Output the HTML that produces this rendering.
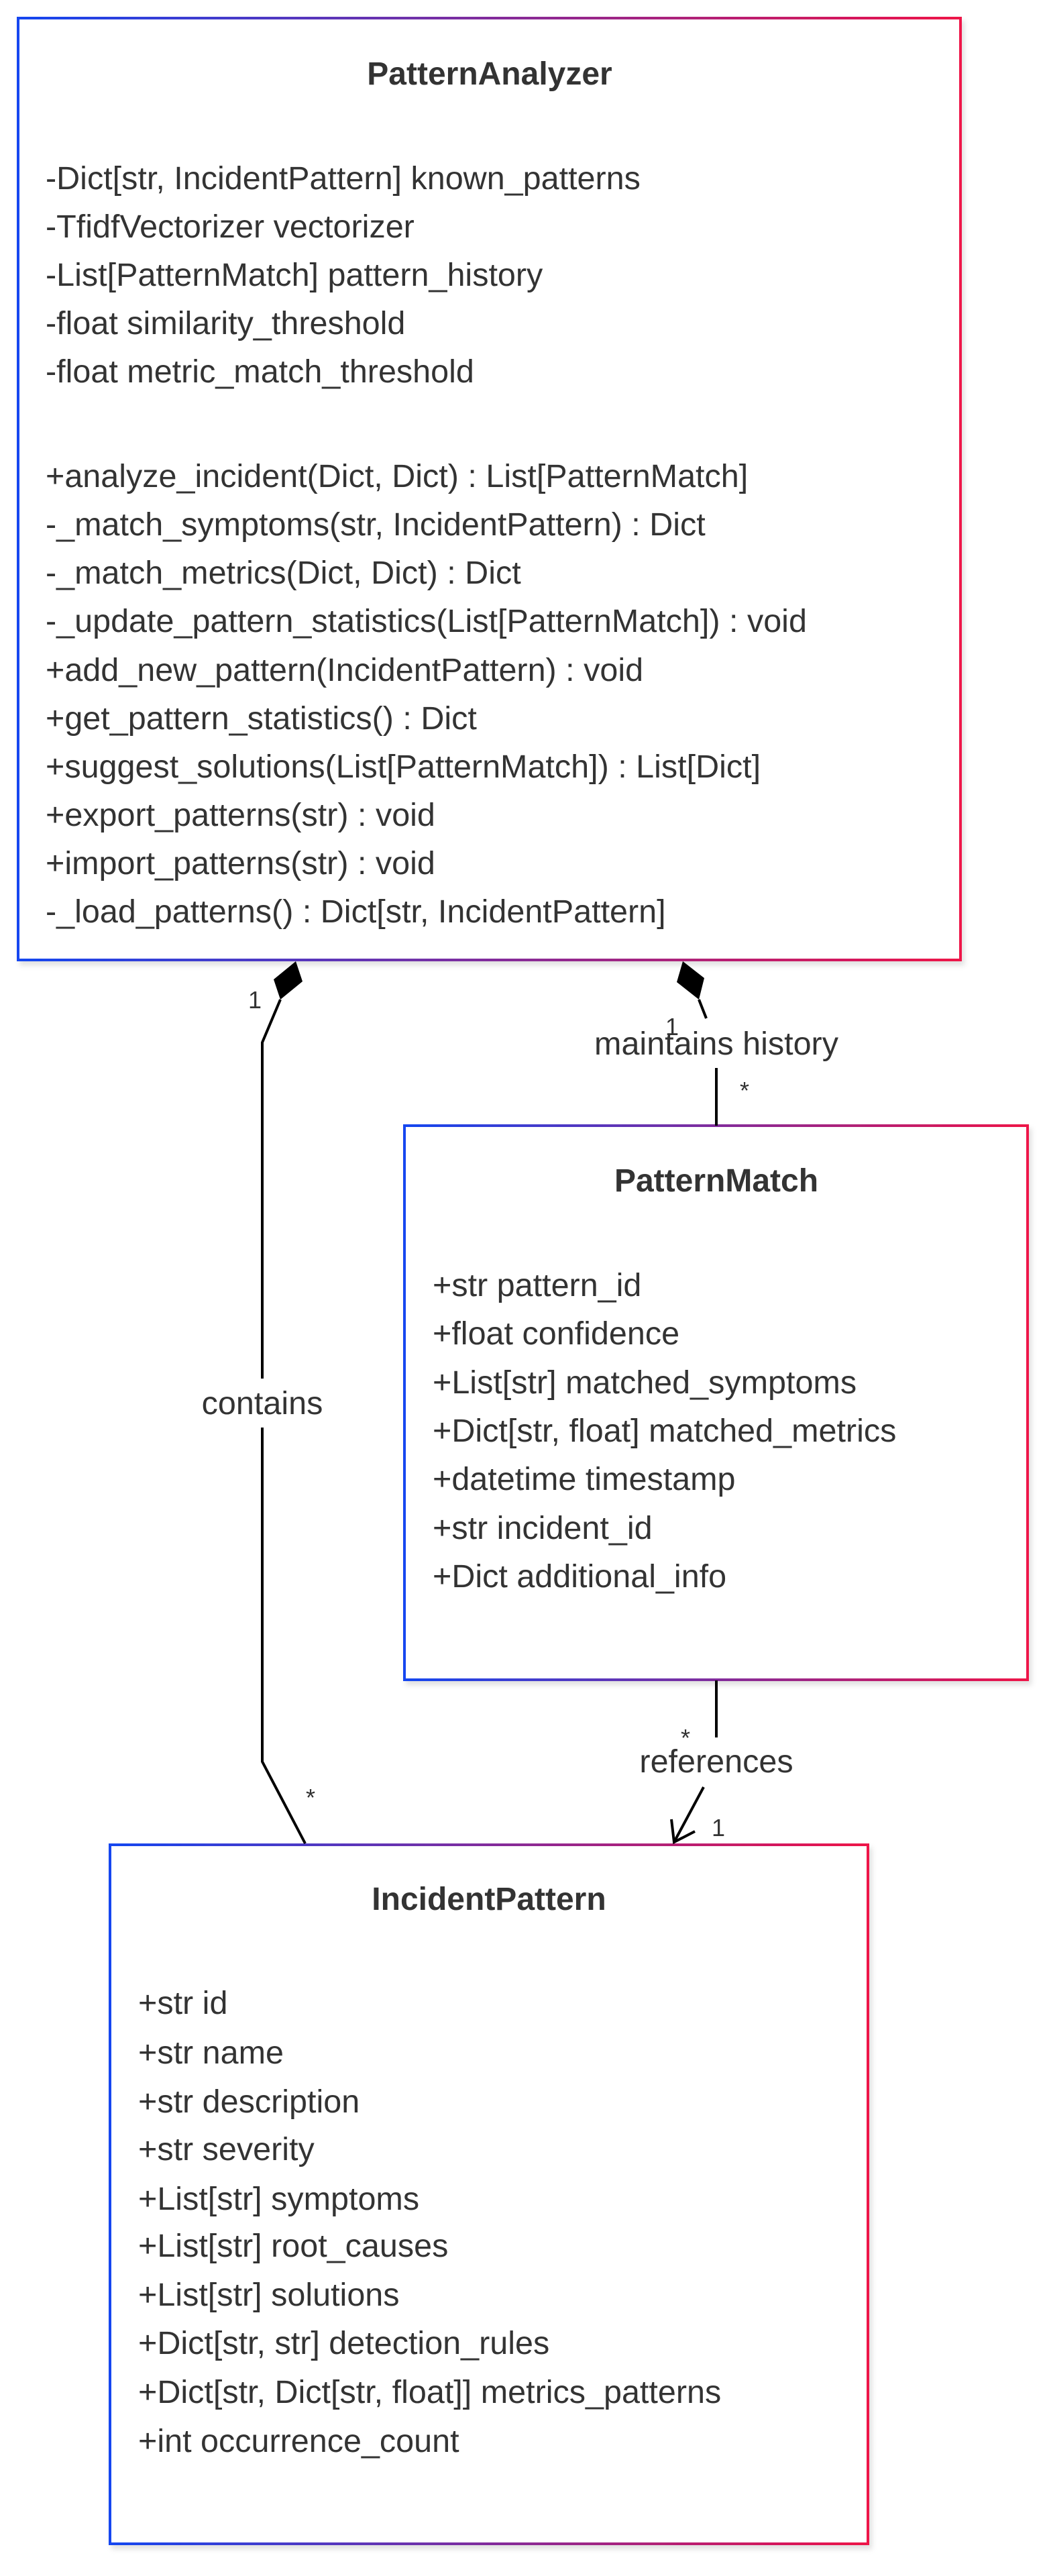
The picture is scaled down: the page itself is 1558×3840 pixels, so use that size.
<!DOCTYPE html>
<html><head><meta charset="utf-8"><style>
html,body{margin:0;padding:0;background:#fff;}
svg{display:block;}
text{font-family:"Liberation Sans",Arial,sans-serif;fill:#333;}
.t{font-size:48.5px;}
.b{font-size:48px;font-weight:bold;}
.s{font-size:36px;}
</style></head><body>
<svg width="1558" height="3840" viewBox="0 0 1558 3840" xmlns="http://www.w3.org/2000/svg">
<defs>
<linearGradient id="g" x1="0" y1="0" x2="1" y2="0">
<stop offset="0" stop-color="#1446f0"/><stop offset="1" stop-color="#ee1248"/>
</linearGradient>
<filter id="sh" x="-5%" y="-5%" width="110%" height="110%"><feDropShadow dx="4" dy="6" stdDeviation="4" flood-color="#000" flood-opacity="0.12"/></filter>
</defs>
<rect x="27" y="27" width="1405" height="1404" fill="#fff" stroke="url(#g)" stroke-width="4" filter="url(#sh)"/>
<rect x="603" y="1678" width="929" height="826" fill="#fff" stroke="url(#g)" stroke-width="4" filter="url(#sh)"/>
<rect x="164" y="2750" width="1130" height="1042" fill="#fff" stroke="url(#g)" stroke-width="4" filter="url(#sh)"/>

<text class="b" x="730" y="126" text-anchor="middle">PatternAnalyzer</text>
<g class="t">
<text x="68" y="282">-Dict[str, IncidentPattern] known_patterns</text>
<text x="68" y="354">-TfidfVectorizer vectorizer</text>
<text x="68" y="426">-List[PatternMatch] pattern_history</text>
<text x="68" y="498">-float similarity_threshold</text>
<text x="68" y="570">-float metric_match_threshold</text>
<text x="68" y="726">+analyze_incident(Dict, Dict) : List[PatternMatch]</text>
<text x="68" y="798">-_match_symptoms(str, IncidentPattern) : Dict</text>
<text x="68" y="870">-_match_metrics(Dict, Dict) : Dict</text>
<text x="68" y="942">-_update_pattern_statistics(List[PatternMatch]) : void</text>
<text x="68" y="1015">+add_new_pattern(IncidentPattern) : void</text>
<text x="68" y="1087">+get_pattern_statistics() : Dict</text>
<text x="68" y="1159">+suggest_solutions(List[PatternMatch]) : List[Dict]</text>
<text x="68" y="1231">+export_patterns(str) : void</text>
<text x="68" y="1303">+import_patterns(str) : void</text>
<text x="68" y="1375">-_load_patterns() : Dict[str, IncidentPattern]</text>
</g>

<text class="b" x="1068" y="1776" text-anchor="middle">PatternMatch</text>
<g class="t">
<text x="645" y="1932">+str pattern_id</text>
<text x="645" y="2004">+float confidence</text>
<text x="645" y="2077">+List[str] matched_symptoms</text>
<text x="645" y="2149">+Dict[str, float] matched_metrics</text>
<text x="645" y="2221">+datetime timestamp</text>
<text x="645" y="2294">+str incident_id</text>
<text x="645" y="2366">+Dict additional_info</text>
</g>

<text class="b" x="729" y="2847" text-anchor="middle">IncidentPattern</text>
<g class="t">
<text x="206" y="3002">+str id</text>
<text x="206" y="3076">+str name</text>
<text x="206" y="3149">+str description</text>
<text x="206" y="3220">+str severity</text>
<text x="206" y="3294">+List[str] symptoms</text>
<text x="206" y="3364">+List[str] root_causes</text>
<text x="206" y="3437">+List[str] solutions</text>
<text x="206" y="3509">+Dict[str, str] detection_rules</text>
<text x="206" y="3582">+Dict[str, Dict[str, float]] metrics_patterns</text>
<text x="206" y="3655">+int occurrence_count</text>
</g>

<g stroke="#000" stroke-width="4" fill="none">
<polyline points="418,1490 391,1554 391,2055"/>
<polyline points="391,2128 391,2626 455,2748"/>
</g>
<polygon points="441,1433 451,1463 418,1490 408,1460" fill="#000"/>
<text class="t" x="391" y="2108" text-anchor="middle">contains</text>
<text class="s" x="380" y="1503" text-anchor="middle">1</text>
<text class="s" x="463" y="2692" text-anchor="middle">*</text>

<g stroke="#000" stroke-width="4" fill="none">
<line x1="1042" y1="1490" x2="1053" y2="1518"/>
<line x1="1068" y1="1592" x2="1068" y2="1678"/>
</g>
<polygon points="1018,1433 1050,1458 1042,1490 1009,1464" fill="#000"/>
<text class="t" x="1068" y="1572" text-anchor="middle">maintains history</text>
<text class="s" x="1002" y="1543" text-anchor="middle">1</text>
<text class="s" x="1110" y="1638" text-anchor="middle">*</text>

<g stroke="#000" stroke-width="4" fill="none">
<line x1="1068" y1="2505" x2="1068" y2="2590"/>
<line x1="1049" y1="2664" x2="1005" y2="2746"/>
<polyline points="1001,2712 1005,2746 1036,2730"/>
</g>
<text class="t" x="1068" y="2642" text-anchor="middle">references</text>
<text class="s" x="1022" y="2603" text-anchor="middle">*</text>
<text class="s" x="1071" y="2737" text-anchor="middle">1</text>
</svg>
</body></html>
